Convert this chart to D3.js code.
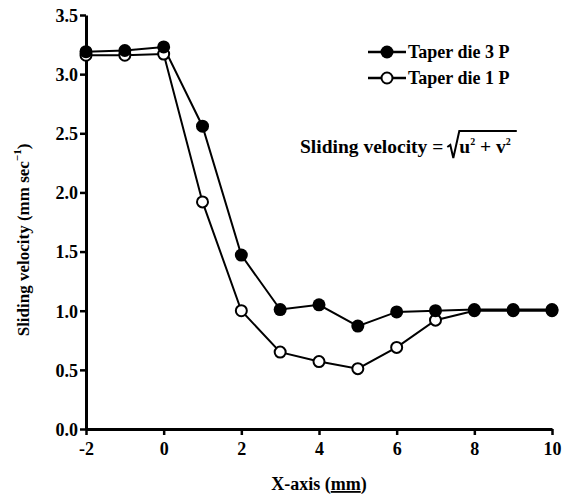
<!DOCTYPE html>
<html>
<head>
<meta charset="utf-8">
<script src="https://cdn.jsdelivr.net/npm/d3@7"></script>
<style>
  body { margin: 0; background: #fff; }
  svg { display: block; }
  svg text { font-family: "Liberation Serif", "Times New Roman", Times, serif; font-weight: bold; }
</style>
</head>
<body>
<div id="chart"></div>
<script>
// x positions along the die (mm)
const xValues = [-2, -1, 0, 1, 2, 3, 4, 5, 6, 7, 8, 9, 10];

// Sliding velocity for each die
const taper3P = [3.19, 3.20, 3.23, 2.56, 1.47, 1.01, 1.05, 0.87, 0.99, 1.00, 1.01, 1.01, 1.01];
const taper1P = [3.16, 3.16, 3.17, 1.92, 1.00, 0.65, 0.57, 0.51, 0.69, 0.92, 1.00, 1.00, 1.00];

const xTicks = [-2, 0, 2, 4, 6, 8, 10];
const yTicks = [0, 0.5, 1, 1.5, 2, 2.5, 3, 3.5];

const width = 563, height = 496;
const margin = { left: 86, right: 11, top: 15, bottom: 67 };
const fontSize = 18;

const svg = d3.select("#chart").append("svg")
  .attr("width", width)
  .attr("height", height);

// Scales
const x = d3.scaleLinear().domain([-2, 10]).range([margin.left, width - margin.right]);
const y = d3.scaleLinear().domain([0, 3.5]).range([height - margin.bottom, margin.top]);

// Axes (plain hyphen for negatives, like the original)
const xAxis = svg.append("g")
  .attr("transform", `translate(0,${y(0)})`)
  .call(d3.axisBottom(x).tickValues(xTicks).tickSize(6).tickSizeOuter(0)
    .tickFormat(d => String(d)));

const yAxis = svg.append("g")
  .attr("transform", `translate(${x(-2)},0)`)
  .call(d3.axisLeft(y).tickValues(yTicks).tickSize(6).tickSizeOuter(0).tickFormat(d3.format(".1f")));

for (const g of [xAxis, yAxis]) {
  g.select(".domain").attr("stroke", "#000").attr("stroke-width", 3);
  g.selectAll(".tick line").attr("stroke", "#000").attr("stroke-width", 2.5);
  g.selectAll(".tick text")
    .attr("fill", "#000")
    .attr("font-size", fontSize);
}
xAxis.selectAll(".tick text").attr("dy", "0.95em");
yAxis.selectAll(".tick text").attr("x", -8).attr("dy", "0.35em");

// Axis titles
const xTitle = svg.append("text")
  .attr("x", (x(-2) + x(10)) / 2)
  .attr("y", 490)
  .attr("text-anchor", "middle")
  .attr("font-size", fontSize);
xTitle.append("tspan").text("X-axis (");
xTitle.append("tspan").attr("text-decoration", "underline").text("mm");
xTitle.append("tspan").text(")");

const yTitle = svg.append("text")
  .attr("transform", `translate(29,${(y(0) + y(3.5)) / 2 + 18}) rotate(-90)`)
  .attr("text-anchor", "middle")
  .attr("font-size", 17);
yTitle.append("tspan").text("Sliding velocity (mm sec");
yTitle.append("tspan").attr("dy", -8).attr("font-size", 11).text("\u22121");
yTitle.append("tspan").attr("dy", 8).text(")");

// Lines
const line = d3.line()
  .x((d, i) => x(xValues[i]))
  .y(d => y(d));

svg.append("path").datum(taper3P)
  .attr("d", line).attr("fill", "none").attr("stroke", "#000").attr("stroke-width", 2);
svg.append("path").datum(taper1P)
  .attr("d", line).attr("fill", "none").attr("stroke", "#000").attr("stroke-width", 2);

// Markers: open circles first, filled on top
svg.append("g").selectAll("circle").data(taper1P).join("circle")
  .attr("cx", (d, i) => x(xValues[i]))
  .attr("cy", d => y(d))
  .attr("r", 5.5)
  .attr("fill", "#fff").attr("stroke", "#000").attr("stroke-width", 2);

svg.append("g").selectAll("circle").data(taper3P).join("circle")
  .attr("cx", (d, i) => x(xValues[i]))
  .attr("cy", d => y(d))
  .attr("r", 6.5)
  .attr("fill", "#000");

// Legend
const legend = [
  { label: "Taper die 3 P", filled: true, y: 52 },
  { label: "Taper die 1 P", filled: false, y: 78 }
];
for (const item of legend) {
  svg.append("line")
    .attr("x1", 368).attr("x2", 406).attr("y1", item.y).attr("y2", item.y)
    .attr("stroke", "#000").attr("stroke-width", 2.5);
  svg.append("circle")
    .attr("cx", 387).attr("cy", item.y)
    .attr("r", item.filled ? 6.5 : 5.5)
    .attr("fill", item.filled ? "#000" : "#fff")
    .attr("stroke", "#000").attr("stroke-width", item.filled ? 0 : 2);
  svg.append("text")
    .attr("x", 408).attr("y", item.y + 6)
    .attr("font-size", fontSize)
    .text(item.label);
}

// Formula annotation: text, then a hand-drawn radical sized to the radicand
const fx = 300, fy = 153, fSize = 19.5;
const formula = svg.append("text")
  .attr("x", fx).attr("y", fy)
  .attr("font-size", fSize)
  .text("Sliding velocity =");
const lhsEnd = fx + formula.node().getComputedTextLength();

const rx = lhsEnd + 16;
const radicand = svg.append("text")
  .attr("x", rx).attr("y", fy)
  .attr("font-size", fSize);
radicand.append("tspan").text("u");
radicand.append("tspan").attr("dy", -8).attr("font-size", 10).text("2");
radicand.append("tspan").attr("dy", 8).text(" + v");
radicand.append("tspan").attr("dy", -8).attr("font-size", 10).text("2");
const rEnd = rx + radicand.node().getComputedTextLength();

svg.append("path")
  .attr("d", `M${lhsEnd + 4},${fy - 6} L${lhsEnd + 7},${fy - 8} L${lhsEnd + 10},${fy + 5} L${rx},${fy - 22} L${rEnd + 6},${fy - 22}`)
  .attr("fill", "none").attr("stroke", "#000").attr("stroke-width", 2);
</script>
</body>
</html>
